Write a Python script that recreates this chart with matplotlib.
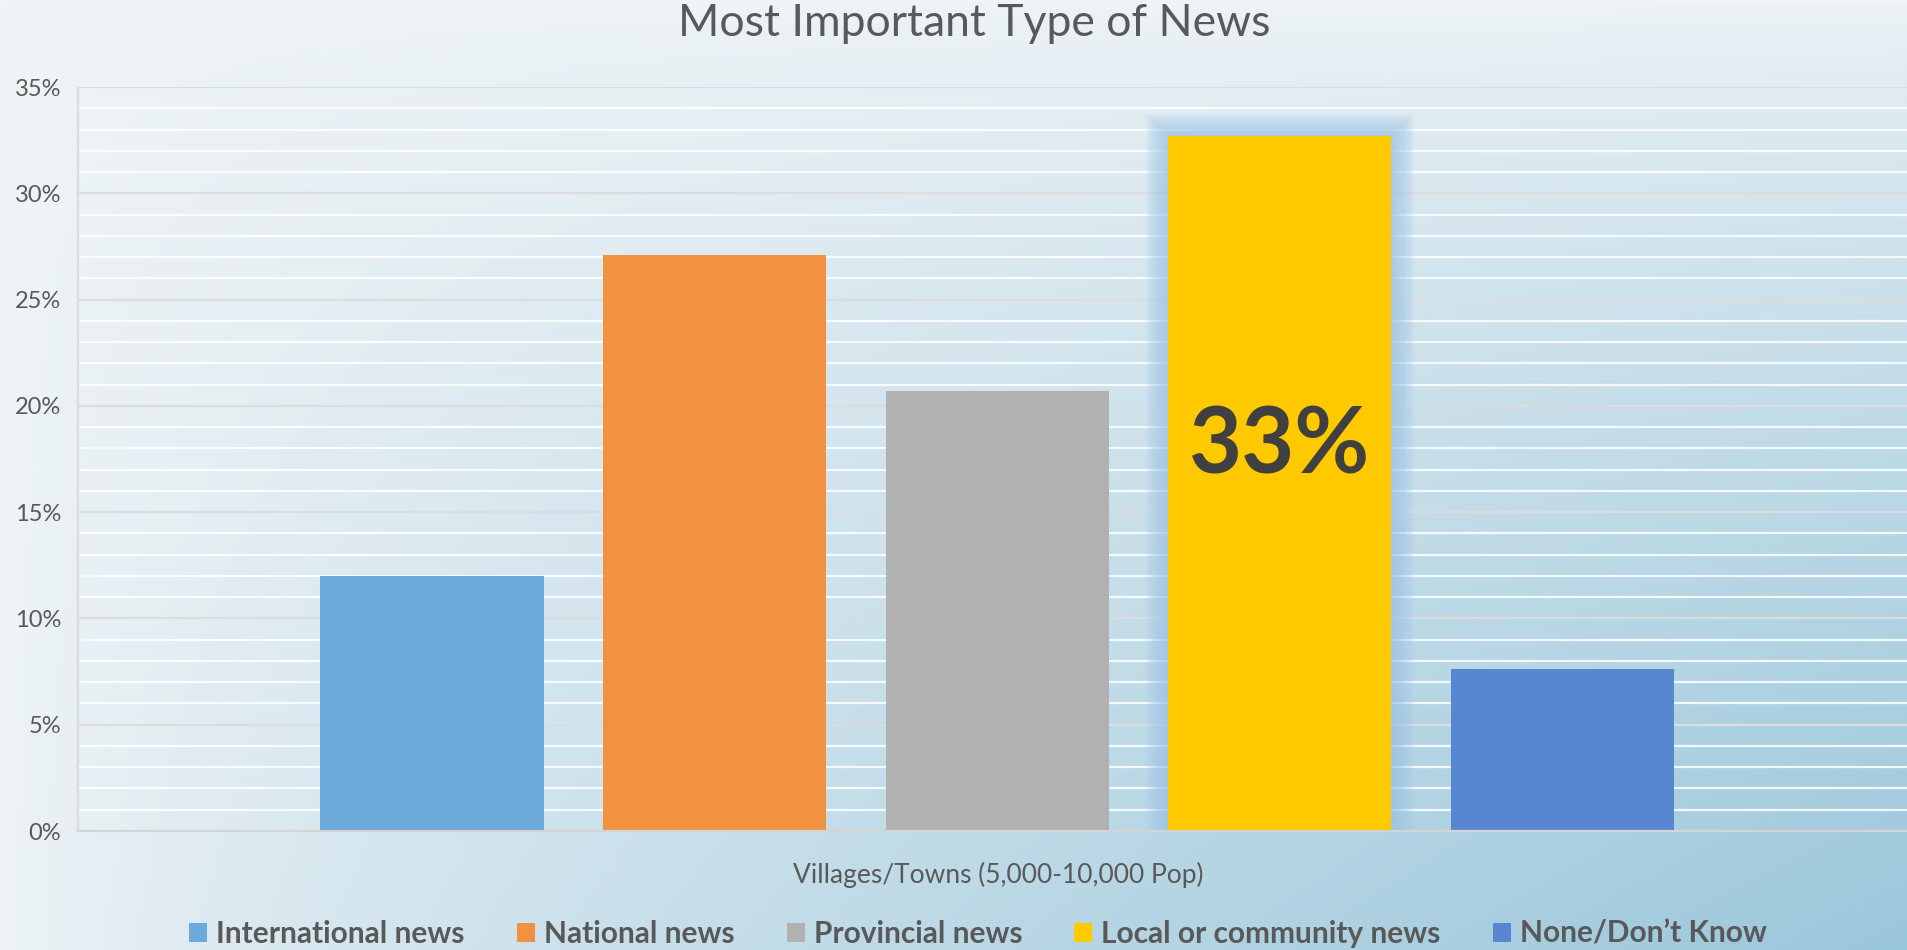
import numpy as np
from matplotlib import pyplot as plt
from matplotlib.patches import Rectangle

# data
categories = ["International news", "National news", "Provincial news",
              "Local or community news", "None/Don\u2019t Know"]
values = [12.0, 27.1, 20.7, 32.7, 7.6]
colors = ["#6babdb", "#f29241", "#b1b1b1", "#ffc900", "#5687d0"]
group_label = "Villages/Towns (5,000-10,000 Pop)"
highlight = 3
highlight_text = "33%"

plt.rcParams['font.family'] = ['Lato', 'DejaVu Sans']
text_grey = "#595959"

fig = plt.figure(figsize=(19.08, 9.5), dpi=100)

# background gradient (light at the left/top, blue toward the bottom right)
bg = fig.add_axes([0, 0, 1, 1], zorder=-10)
gx, gy = np.meshgrid(np.linspace(0, 1, 400), np.linspace(0, 1, 200))
t = (gx * gy) ** 0.7
light = np.array([0xef, 0xf4, 0xf7]) / 255
dark = np.array([0x9b, 0xc7, 0xdb]) / 255
img = light[None, None, :] * (1 - t[..., None]) + dark[None, None, :] * t[..., None]
bg.imshow(img, aspect='auto', extent=[0, 1, 1, 0])
bg.set_axis_off()

ax = fig.add_axes([78 / 1908, 119 / 950, 1 - 78 / 1908, 744 / 950])
ax.set_facecolor("none")

x = np.arange(len(values))
bw = 0.79
ax.bar(x, values, width=bw, color=colors, zorder=3, label=categories)

# soft glow around the highlighted bar
for i in range(10):
    pad = (10 - i) * 0.008
    ax.add_patch(Rectangle((x[highlight] - bw / 2 - pad, 0), bw + 2 * pad,
                           values[highlight] + pad * 13,
                           color="#9ac2e6", alpha=0.11, lw=0, zorder=2))

ax.text(x[highlight], values[highlight] * 0.552, highlight_text, ha='center', va='center',
        fontsize=66, fontweight='bold', color="#404040", zorder=4)

ax.set_xlim(-1.253, 5.223)
ax.set_ylim(0, 35)
ax.set_yticks(np.arange(0, 36, 5))
ax.set_yticklabels([f"{v}%" for v in range(0, 36, 5)], fontsize=17, color=text_grey)
ax.set_yticks(np.arange(0, 36, 1), minor=True)
ax.tick_params(axis='y', which='both', length=0, pad=12)
ax.set_xticks([])
ax.grid(axis='y', which='minor', color='white', lw=1.6, alpha=0.85, zorder=1)
ax.grid(axis='y', which='major', color='#dcdcdc', lw=1.6, zorder=1)
for side in ["top", "right"]:
    ax.spines[side].set_visible(False)
ax.spines["left"].set_color("#dcdcdc")
ax.spines["left"].set_linewidth(1.6)
ax.spines["bottom"].set_color("#d4d4d4")
ax.spines["bottom"].set_linewidth(1.6)
ax.spines["bottom"].set_zorder(4)

ax.set_xlabel(group_label, fontsize=19, color=text_grey)
ax.xaxis.set_label_coords((998 - 78) / 1830, -0.042)

fig.text(974 / 1908, 1 - 24 / 950, "Most Important Type of News", ha='center', va='center',
         fontsize=32, color=text_grey)

leg = fig.legend(loc='center', bbox_to_anchor=(978 / 1908, 1 - 934 / 950), ncol=5,
                 frameon=False, handlelength=0.6, handleheight=0.6, handletextpad=0.3,
                 columnspacing=1.75, prop={'size': 21.5, 'weight': 'bold'})
for txt in leg.get_texts():
    txt.set_color(text_grey)

fig.savefig("out.png", dpi=100)
